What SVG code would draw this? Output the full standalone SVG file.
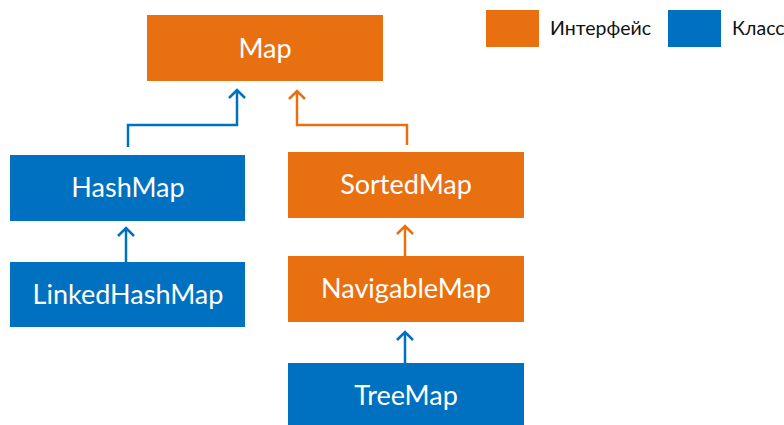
<svg xmlns="http://www.w3.org/2000/svg" width="784" height="425" viewBox="0 0 784 425">
<style>
.or{fill:#E97011}
.bl{fill:#0070C0}
.t{font-family:Lato,"Open Sans",sans-serif;font-size:27px;fill:#fff;text-anchor:middle}
.lg{font-family:Lato,"Open Sans",sans-serif;font-size:19.5px;fill:#111}
.cb{stroke:#0070C0;stroke-width:2.5;fill:none}
.co{stroke:#E97011;stroke-width:2.5;fill:none}
</style>
<rect width="784" height="425" fill="#fff"/>
<g id="legend">
<rect class="or" x="486" y="10" width="53" height="37"/>
<text class="lg" x="550" y="35">Интерфейс</text>
<rect class="bl" x="668" y="10" width="53" height="37"/>
<text class="lg" x="732" y="35">Класс</text>
</g>
<g id="map"><rect class="or" x="147" y="15" width="236" height="66"/><text class="t" x="265" y="58">Map</text></g>
<g id="hashmap"><rect class="bl" x="10" y="155" width="235" height="66"/><text class="t" x="128" y="197">HashMap</text></g>
<g id="linkedhashmap"><rect class="bl" x="10" y="262" width="235" height="65"/><text class="t" x="128" y="304">LinkedHashMap</text></g>
<g id="sortedmap"><rect class="or" x="288" y="152" width="236" height="66"/><text class="t" x="406" y="194">SortedMap</text></g>
<g id="navigablemap"><rect class="or" x="288" y="256" width="236" height="66"/><text class="t" x="406" y="298">NavigableMap</text></g>
<g id="treemap"><rect class="bl" x="288" y="363" width="236" height="66"/><text class="t" x="406" y="405">TreeMap</text></g>
<g id="connectors">
<path class="cb" d="M128 147 V125 H237 V90 M229 98 L237 90 L245 98"/>
<path class="co" d="M407 145 V125 H297 V91 M289 99 L297 91 L305 99"/>
<path class="cb" d="M126 262 V228 M118 236 L126 228 L134 236"/>
<path class="co" d="M405 256 V226 M397 234 L405 226 L413 234"/>
<path class="cb" d="M405 363 V332 M397 340 L405 332 L413 340"/>
</g>
</svg>
